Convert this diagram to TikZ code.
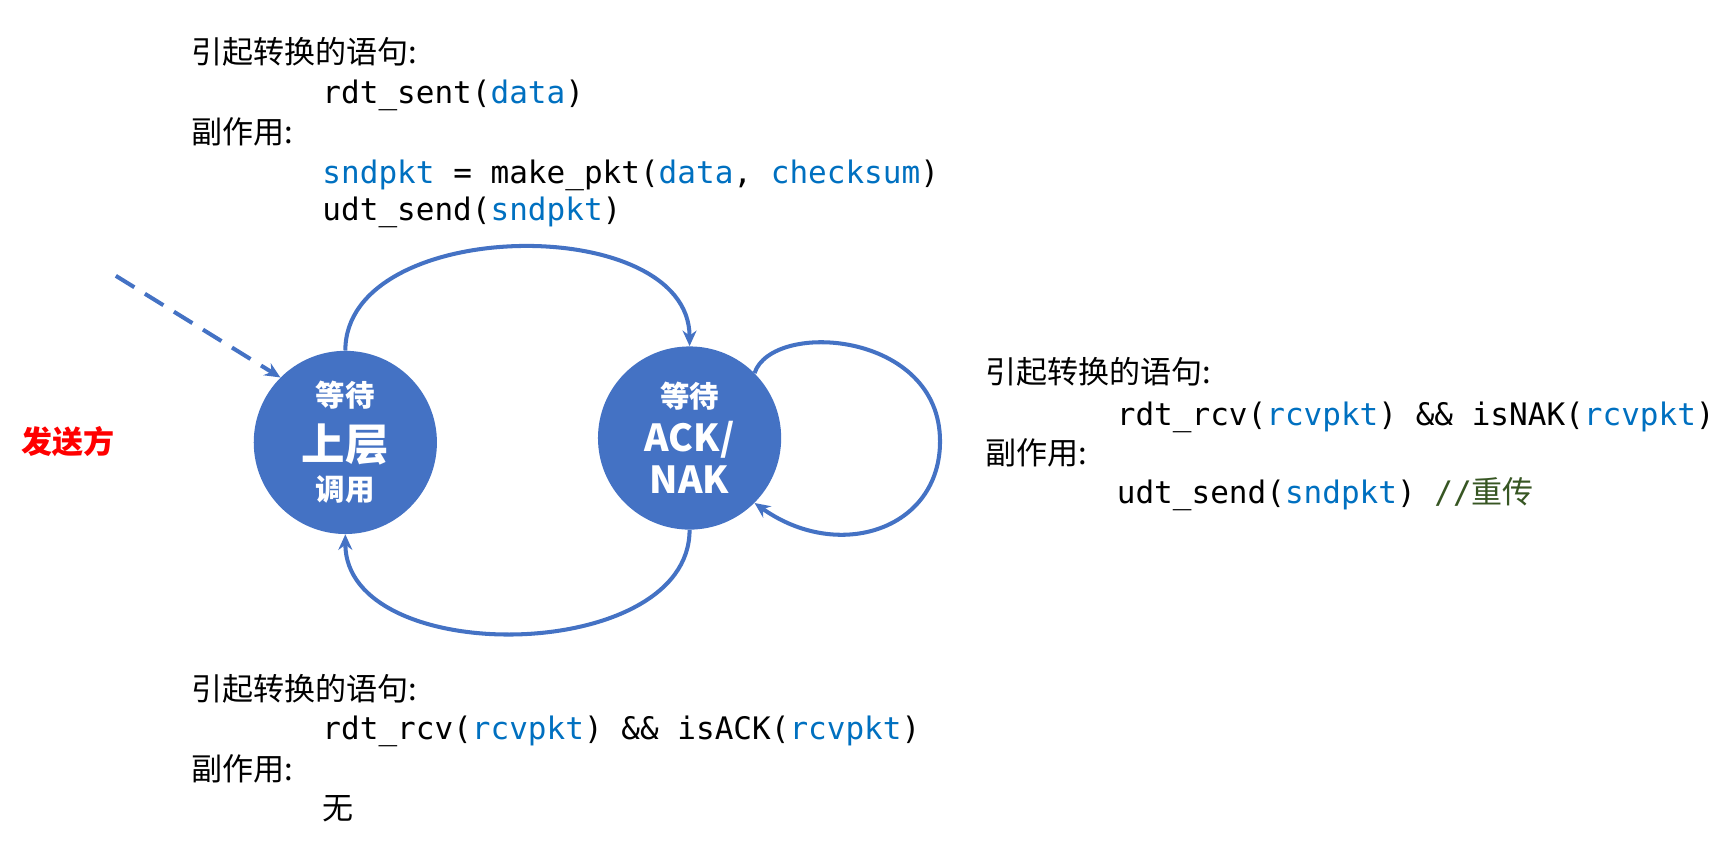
\documentclass[tikz,border=0pt]{standalone}
\usepackage{fontspec}
\setmainfont{Noto Sans CJK SC}
\setmonofont{DejaVu Sans Mono}
\newfontfamily\cjk{Noto Sans CJK SC}
\usetikzlibrary{arrows.meta}
\definecolor{fsmblue}{HTML}{4472C4}
\definecolor{varblue}{HTML}{0070C0}
\definecolor{cmtgreen}{HTML}{375623}
\newcommand{\vb}[1]{\textcolor{varblue}{#1}}
\tikzset{
  state/.style={circle, fill=fsmblue, minimum size=4.15cm, inner sep=0pt,
    text=white, font=\bfseries, align=center},
  trans/.style={draw=fsmblue, line width=2.6pt, -{Stealth[length=10pt,width=9pt]}},
  lbl/.style={anchor=base west, inner sep=0pt, font=\fontsize{20}{24}\selectfont},
  code/.style={anchor=base west, inner sep=0pt, font=\fontsize{20}{24}\selectfont\ttfamily}
}
\begin{document}
\begin{tikzpicture}[x=0.025cm, y=-0.025cm]
  \useasboundingbox (0,0) rectangle (1568,762);

  % states
  \node[state] (wait) at (313,401) {\fontsize{19}{24}\selectfont 等待\\[8pt]
    \fontsize{28}{30}\selectfont 上层\\[6pt]\fontsize{19}{24}\selectfont 调用};
  \node[state] (ack) at (625,397) {\fontsize{19}{24}\selectfont 等待\\[6pt]
    \fontsize{24}{28}\selectfont ACK/\\[4pt]\fontsize{24}{28}\selectfont NAK};
  \node[text=red, font=\bfseries\fontsize{20}{24}\selectfont] (side) at (62,400) {发送方};

  \coordinate (init) at (105,250);

  % transitions
  \draw[trans, dash pattern=on 14pt off 8pt] (init) -- (wait.135);
  \draw[trans] (wait.90) to[out=90, in=90, looseness=1.0] (ack.90);
  \draw[trans] (ack.270) to[out=270, in=270, looseness=1.0] (wait.270);
  \draw[trans] (ack.45) .. controls (700,290) and (852,300) .. (852,400)
    .. controls (852,480) and (760,510) .. (ack.-45);

  % top label
  \node[lbl] (t1) at (173,58) {引起转换的语句:};
  \node[code] (t2) at (292,94) {rdt\_sent(\vb{data})};
  \node[lbl] (t3) at (173,130) {副作用:};
  \node[code] (t4) at (292,166) {\vb{sndpkt} = make\_pkt(\vb{data}, \vb{checksum})};
  \node[code] (t5) at (292,200) {udt\_send(\vb{sndpkt})};

  % right label
  \node[lbl] (r1) at (893,348) {引起转换的语句:};
  \node[code] (r2) at (1012,386) {rdt\_rcv(\vb{rcvpkt}) \&\& isNAK(\vb{rcvpkt})};
  \node[lbl] (r3) at (893,421) {副作用:};
  \node[code] (r4) at (1012,456) {udt\_send(\vb{sndpkt}) \textcolor{cmtgreen}{//{\cjk 重传}}};

  % bottom label
  \node[lbl] (b1) at (173,635) {引起转换的语句:};
  \node[code] (b2) at (292,670) {rdt\_rcv(\vb{rcvpkt}) \&\& isACK(\vb{rcvpkt})};
  \node[lbl] (b3) at (173,707) {副作用:};
  \node[lbl] (b4) at (292,743) {无};
\end{tikzpicture}
\end{document}
